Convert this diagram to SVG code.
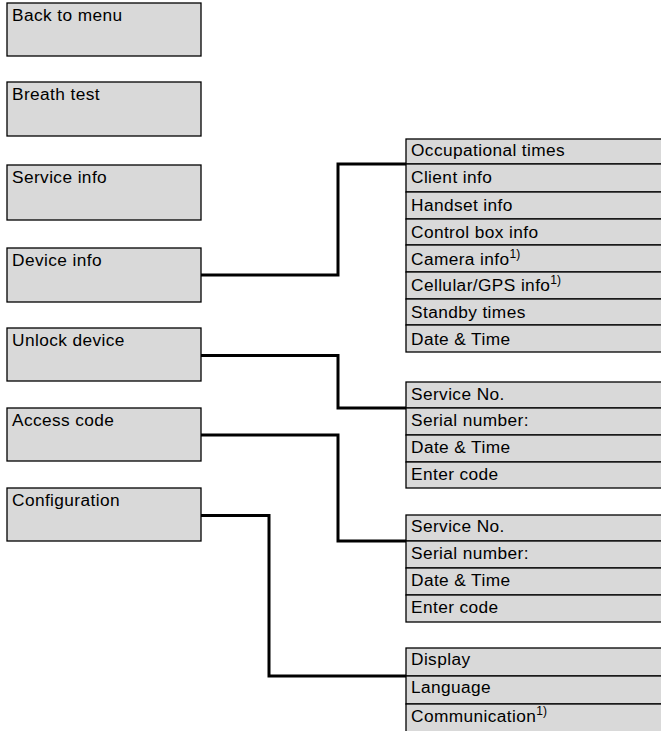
<svg xmlns="http://www.w3.org/2000/svg" width="661" height="731" viewBox="0 0 661 731">
<style>
  .box{fill:#d9d9d9;stroke:#000;stroke-width:1.3}
  .t{font-family:"Liberation Sans",Arial,sans-serif;font-size:17.3px;letter-spacing:0.4px;fill:#000}
  .sup{font-size:12px;letter-spacing:0}
  .conn{fill:none;stroke:#000;stroke-width:3;stroke-linejoin:miter}
</style>
<rect width="661" height="731" fill="#fff"/>
<g id="connectors">
  <path class="conn" d="M201,275 H338 V164 H406"/>
  <path class="conn" d="M201,355.5 H338 V408 H406"/>
  <path class="conn" d="M201,435 H338 V541 H406"/>
  <path class="conn" d="M201,515.5 H269 V676 H406"/>
</g>
<g id="back-to-menu"><rect class="box" x="7" y="3" width="194" height="53"/><text class="t" x="12" y="21">Back to menu</text></g>
<g id="breath-test"><rect class="box" x="7" y="82" width="194" height="54"/><text class="t" x="12" y="100">Breath test</text></g>
<g id="service-info"><rect class="box" x="7" y="165" width="194" height="55"/><text class="t" x="12" y="183">Service info</text></g>
<g id="device-info"><rect class="box" x="7" y="248" width="194" height="54"/><text class="t" x="12" y="266">Device info</text></g>
<g id="unlock-device"><rect class="box" x="7" y="328" width="194" height="53"/><text class="t" x="12" y="346">Unlock device</text></g>
<g id="access-code"><rect class="box" x="7" y="408" width="194" height="53"/><text class="t" x="12" y="426">Access code</text></g>
<g id="configuration"><rect class="box" x="7" y="488" width="194" height="53"/><text class="t" x="12" y="506">Configuration</text></g>

<g id="device-info-menu">
  <rect class="box" x="406" y="139" width="257" height="25"/><text class="t" x="411" y="156">Occupational times</text>
  <rect class="box" x="406" y="164" width="257" height="28"/><text class="t" x="411" y="183">Client info</text>
  <rect class="box" x="406" y="192" width="257" height="27"/><text class="t" x="411" y="211">Handset info</text>
  <rect class="box" x="406" y="219" width="257" height="26"/><text class="t" x="411" y="238">Control box info</text>
  <rect class="box" x="406" y="245" width="257" height="27"/><text class="t" x="411" y="265">Camera info<tspan class="sup" dy="-7">1)</tspan></text>
  <rect class="box" x="406" y="272" width="257" height="27"/><text class="t" x="411" y="291">Cellular/GPS info<tspan class="sup" dy="-7">1)</tspan></text>
  <rect class="box" x="406" y="299" width="257" height="26"/><text class="t" x="411" y="318">Standby times</text>
  <rect class="box" x="406" y="325" width="257" height="27"/><text class="t" x="411" y="345">Date &amp; Time</text>
</g>
<g id="unlock-device-menu">
  <rect class="box" x="406" y="382" width="257" height="26"/><text class="t" x="411" y="399.5">Service No.</text>
  <rect class="box" x="406" y="408" width="257" height="27"/><text class="t" x="411" y="426">Serial number:</text>
  <rect class="box" x="406" y="435" width="257" height="27"/><text class="t" x="411" y="453">Date &amp; Time</text>
  <rect class="box" x="406" y="462" width="257" height="26"/><text class="t" x="411" y="480">Enter code</text>
</g>
<g id="access-code-menu">
  <rect class="box" x="406" y="515" width="257" height="26"/><text class="t" x="411" y="532">Service No.</text>
  <rect class="box" x="406" y="541" width="257" height="27"/><text class="t" x="411" y="559">Serial number:</text>
  <rect class="box" x="406" y="568" width="257" height="27"/><text class="t" x="411" y="586">Date &amp; Time</text>
  <rect class="box" x="406" y="595" width="257" height="27"/><text class="t" x="411" y="612.5">Enter code</text>
</g>
<g id="configuration-menu">
  <rect class="box" x="406" y="648" width="257" height="28"/><text class="t" x="411" y="665">Display</text>
  <rect class="box" x="406" y="676" width="257" height="28"/><text class="t" x="411" y="693">Language</text>
  <rect class="box" x="406" y="704" width="257" height="30"/><text class="t" x="411" y="722">Communication<tspan class="sup" dy="-7">1)</tspan></text>
</g>
</svg>
